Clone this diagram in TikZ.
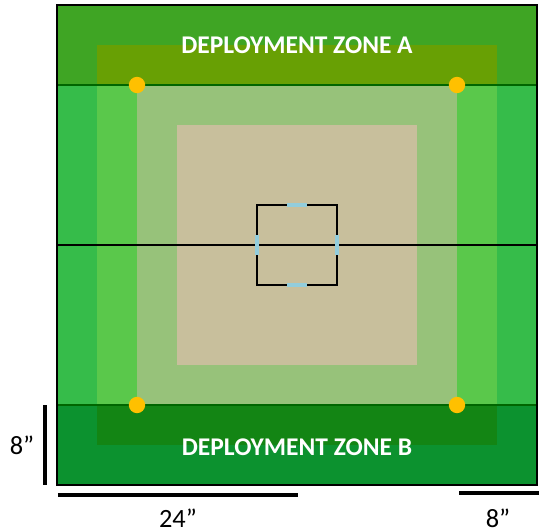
\documentclass[tikz,border=0pt]{standalone}
\usepackage{fontspec}
\setmainfont{Carlito}
\definecolor{zoneA}{HTML}{3FA524}
\definecolor{zoneAin}{HTML}{68A004}
\definecolor{zoneB}{HTML}{0C922F}
\definecolor{zoneBin}{HTML}{138514}
\definecolor{midgreen}{HTML}{36BC4A}
\definecolor{litegreen}{HTML}{5AC84B}
\definecolor{palegreen}{HTML}{97C27A}
\definecolor{tan}{HTML}{C8BF9C}
\definecolor{objyellow}{HTML}{FFC000}
\definecolor{tickblue}{HTML}{92CDDC}
\newcommand{\bluetick}[2]{\draw[tickblue,line width=2.6pt] #1 -- #2;}
\begin{document}
\begin{tikzpicture}[x=0.2cm,y=0.2cm,
    zonelabel/.style={text=white,font=\bfseries\fontsize{14.5}{16}\selectfont},
    dimlabel/.style={font=\fontsize{15}{17}\selectfont},
    dimbar/.style={line width=2pt,line cap=butt},
    objective/.style={circle,fill=objyellow,minimum size=9.3pt,inner sep=0pt}]
  \useasboundingbox (-5.7,-4.7) rectangle (48.9,48.5);
  % board bands
  \fill[zoneB] (0,0) rectangle (48,8);
  \fill[midgreen] (0,8) rectangle (48,40);
  \fill[zoneA] (0,40) rectangle (48,48);
  % nested squares
  \fill[zoneBin] (4,4) rectangle (44,8);
  \fill[litegreen] (4,8) rectangle (44,40);
  \fill[zoneAin] (4,40) rectangle (44,44);
  \fill[palegreen] (8,8) rectangle (40,40);
  \fill[tan] (12,12) rectangle (36,36);
  % lines
  \coordinate (midW) at (0,24);
  \coordinate (midE) at (48,24);
  \draw[green!40!black,line width=0.6pt] (0,40) -- (48,40) (0,8) -- (48,8);
  \draw[line width=0.6pt] (midW) -- (midE);
  \draw[line width=1pt] (0,0) rectangle (48,48);
  % centre square
  \draw[line width=1pt] (20,20) rectangle (28,28);
  \bluetick{(23,28)}{(25,28)}
  \bluetick{(23,20)}{(25,20)}
  \bluetick{(20,23)}{(20,25)}
  \bluetick{(28,23)}{(28,25)}
  % objectives
  \node[objective] (objNW) at (8,40) {};
  \node[objective] (objNE) at (40,40) {};
  \node[objective] (objSW) at (8,8) {};
  \node[objective] (objSE) at (40,8) {};
  % zone labels
  \node[zonelabel] (labelA) at (24,44) {DEPLOYMENT ZONE A};
  \node[zonelabel] (labelB) at (24,3.8) {DEPLOYMENT ZONE B};
  % dimensions
  \draw[dimbar] (-1.2,0) -- (-1.2,8);
  \draw[dimbar] (0.1,-1) -- (24.1,-1);
  \draw[dimbar] (40.2,-0.8) -- (48.2,-0.8);
  \node[dimlabel] (dimH) at (-3.5,4) {8”};
  \node[dimlabel] (dim24) at (12.1,-3.3) {24”};
  \node[dimlabel] (dim8) at (44.1,-3.3) {8”};
\end{tikzpicture}
\end{document}
